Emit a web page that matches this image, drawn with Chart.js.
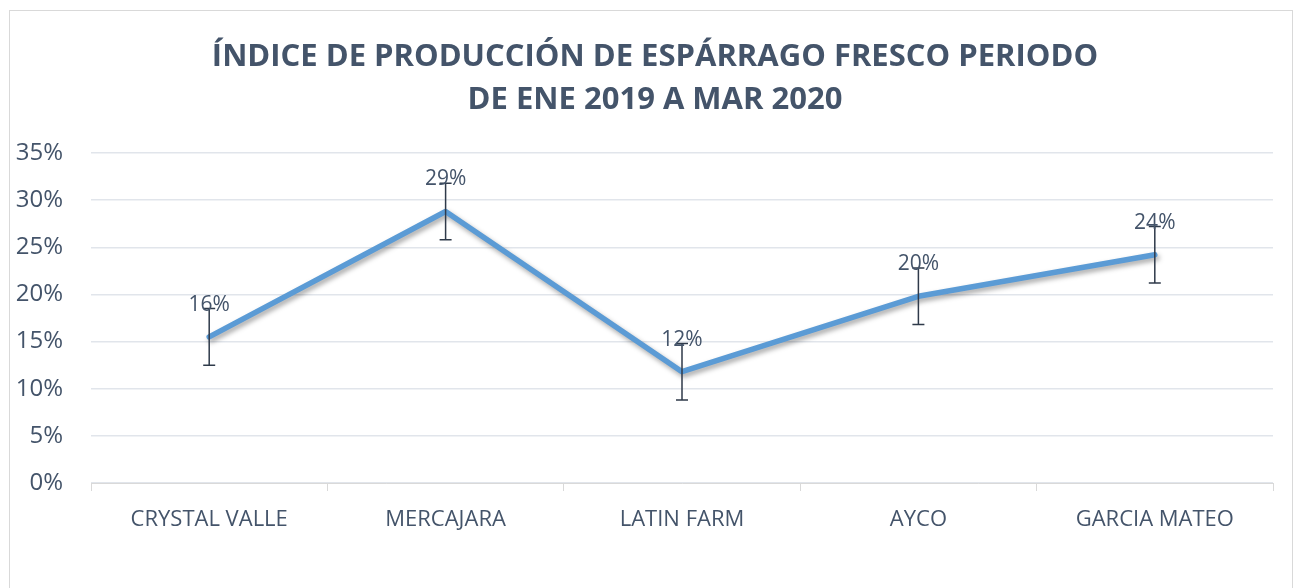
<!DOCTYPE html>
<html>
<head>
<meta charset="utf-8">
<script src="https://cdn.jsdelivr.net/npm/chart.js@4/dist/chart.umd.min.js"></script>
<style>
  html, body { margin: 0; padding: 0; background: #fff; }
  #wrap { position: relative; width: 1300px; height: 588px; overflow: hidden; }
  #frame { position: absolute; left: 9px; top: 10px; width: 1284px; height: 600px; border: 1px solid #d9d9d9; box-sizing: border-box; }
  canvas { position: absolute; left: 0; top: 0; }
</style>
</head>
<body>
<div id="wrap">
  <div id="frame"></div>
  <canvas id="chart" width="1300" height="588"></canvas>
</div>
<script>
const TITLE_LINES = ["ÍNDICE DE PRODUCCIÓN DE ESPÁRRAGO FRESCO PERIODO", "DE ENE 2019 A MAR 2020"];
const CATEGORIES = ["CRYSTAL VALLE", "MERCAJARA", "LATIN FARM", "AYCO", "GARCIA MATEO"];
const VALUES = [15.5, 28.8, 11.8, 19.8, 24.2];
const LABELS = ["16%", "29%", "12%", "20%", "24%"];
const ERRORS = [3, 3, 3, 3, 3];
const Y_TICKS = [0, 5, 10, 15, 20, 25, 30, 35];

const TEXT_COLOR = "#44546A";
const LINE_COLOR = "#5B9BD5";
const FONT = "'Open Sans', sans-serif";

/* titulo dibujado a mano para controlar la posicion */
const titlePlugin = {
  id: "titleText",
  afterDraw(chart) {
    const ctx = chart.ctx;
    ctx.save();
    ctx.fillStyle = TEXT_COLOR;
    ctx.font = `bold 31px ${FONT}`;
    ctx.textAlign = "center";
    ctx.textBaseline = "middle";
    TITLE_LINES.forEach((line, i) => ctx.fillText(line, 655, 57 + i * 43));
    ctx.restore();
  },
};

/* sombra de la linea */
const shadowPlugin = {
  id: "lineShadow",
  beforeDatasetDraw(chart) {
    const ctx = chart.ctx;
    ctx.save();
    ctx.shadowColor = "rgba(0,0,0,0.35)";
    ctx.shadowBlur = 5;
    ctx.shadowOffsetX = 2;
    ctx.shadowOffsetY = 3;
  },
  afterDatasetDraw(chart) {
    chart.ctx.restore();
  },
};

/* barras de error y etiquetas de datos */
const errorBarPlugin = {
  id: "errorBars",
  afterDatasetsDraw(chart) {
    const ctx = chart.ctx;
    const x = chart.scales.x;
    const y = chart.scales.y;
    ctx.save();
    ctx.strokeStyle = "#2f3a4a";
    ctx.lineWidth = 1.5;
    VALUES.forEach((v, i) => {
      const px = x.getPixelForValue(i);
      const top = y.getPixelForValue(v + ERRORS[i]);
      const bottom = y.getPixelForValue(v - ERRORS[i]);
      ctx.beginPath();
      ctx.moveTo(px, top);
      ctx.lineTo(px, bottom);
      ctx.moveTo(px - 6, top);
      ctx.lineTo(px + 6, top);
      ctx.moveTo(px - 6, bottom);
      ctx.lineTo(px + 6, bottom);
      ctx.stroke();
    });
    ctx.fillStyle = TEXT_COLOR;
    ctx.font = `21px ${FONT}`;
    ctx.textAlign = "center";
    ctx.textBaseline = "middle";
    VALUES.forEach((v, i) => {
      ctx.fillText(LABELS[i], x.getPixelForValue(i), y.getPixelForValue(v) - 32);
    });
    ctx.restore();
  },
};

new Chart(document.getElementById("chart"), {
  type: "line",
  data: {
    labels: CATEGORIES,
    datasets: [
      {
        data: VALUES,
        borderColor: LINE_COLOR,
        borderWidth: 5.5,
        pointRadius: 0,
        tension: 0,
        fill: false,
        borderJoinStyle: "round",
        borderCapStyle: "round",
      },
    ],
  },
  options: {
    responsive: false,
    animation: false,
    layout: { padding: { top: 153, right: 27, left: 0, bottom: 0 } },
    plugins: { legend: { display: false }, tooltip: { enabled: false } },
    scales: {
      x: {
        offset: true,
        afterFit: (s) => { s.height = 105; },
        grid: { offset: true, drawOnChartArea: false, color: "#d9d9d9", tickLength: 8 },
        border: { color: "#d9d9d9" },
        ticks: { color: TEXT_COLOR, font: { family: FONT, size: 22 }, padding: 16 },
      },
      y: {
        min: 0,
        max: 35,
        afterFit: (s) => { s.width = 91; },
        afterBuildTicks: (s) => { s.ticks = Y_TICKS.map((v) => ({ value: v })); },
        grid: { color: "#e1e5eb", drawTicks: false, lineWidth: 1.5 },
        border: { display: false },
        ticks: {
          color: TEXT_COLOR,
          font: { family: FONT, size: 24 },
          padding: 28,
          callback: (v) => v + "%",
        },
      },
    },
  },
  plugins: [titlePlugin, shadowPlugin, errorBarPlugin],
});
</script>
</body>
</html>
